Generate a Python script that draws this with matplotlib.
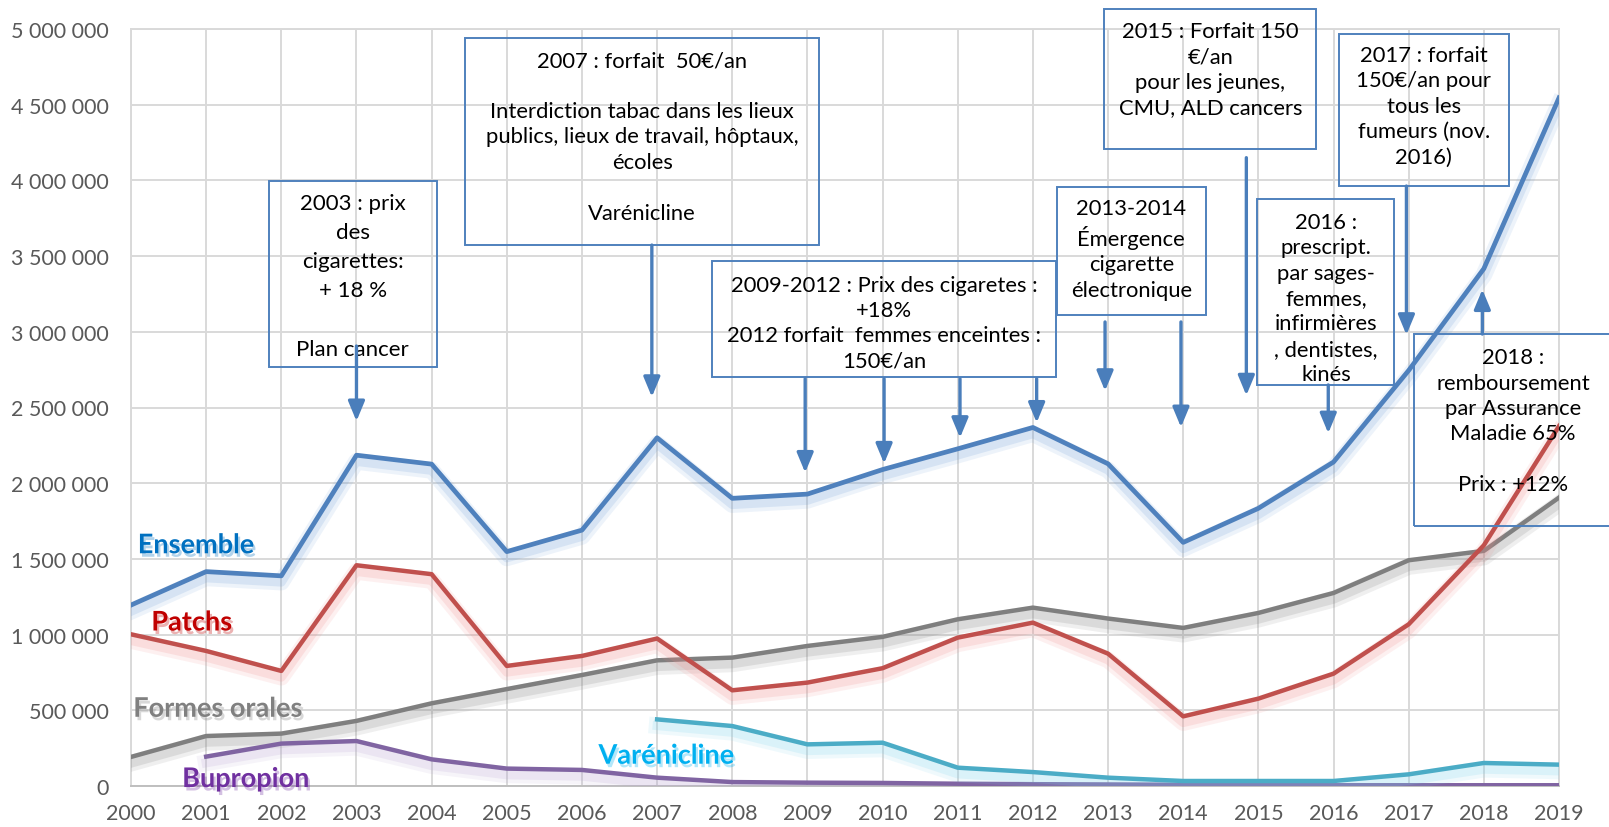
import numpy as np
import matplotlib
matplotlib.use("Agg")
import matplotlib.pyplot as plt
import matplotlib.patheffects as pe
from matplotlib.patches import Rectangle
from matplotlib.ticker import FuncFormatter

# données (nombre de traitements par an)
years = list(range(2000, 2020))
ensemble = [1195000, 1416000, 1388000, 2185000, 2126000, 1548000, 1690000, 2300000, 1900000, 1928000,
            2090000, 2227000, 2368000, 2128000, 1609000, 1834000, 2140000, 2745000, 3417000, 4545000]
patchs = [1002000, 892000, 760000, 1458000, 1399000, 793000, 859000, 974000, 632000, 683000,
          778000, 980000, 1079000, 874000, 460000, 577000, 742000, 1068000, 1590000, 2377000]
formes_orales = [192000, 330000, 346000, 430000, 546000, 640000, 733000, 830000, 848000, 925000,
                 985000, 1101000, 1178000, 1106000, 1044000, 1143000, 1275000, 1491000, 1553000, 1905000]
varenicline = [np.nan] * 7 + [440000, 396000, 275000, 286000, 121000, 92000, 55000, 33000, 33000,
                              33000, 77000, 152000, 141000]
bupropion = [np.nan, 194000, 280000, 297000, 176000, 115000, 106000, 55000, 26000, 22000,
             20000, 15000, 12000, 10000, 8000, 6000, 5000, 5000, 5000, 5000]

series_names = ["Ensemble", "Patchs", "Formes orales", "Varénicline", "Bupropion"]

plt.rcParams['font.family'] = ['Lato', 'DejaVu Sans']

BOX = '#4F81BD'


def shadow(c):
    return [pe.SimpleLineShadow(offset=(0, -4.5), shadow_color=c, alpha=0.12, linewidth=12),
            pe.SimpleLineShadow(offset=(0, -4.5), shadow_color=c, alpha=0.18, linewidth=6.5),
            pe.Normal()]


fig = plt.figure(figsize=(16.09, 8.28), dpi=100)
ax = fig.add_axes([131 / 1609, 1 - 787 / 828, (1559 - 131) / 1609, (787 - 30) / 828])

ax.set_xlim(2000, 2019)
ax.set_ylim(0, 5000000)
ax.set_xticks(years)
ax.set_yticks(np.arange(0, 5000001, 500000))
ax.yaxis.set_major_formatter(FuncFormatter(lambda v, p: f"{int(v):,}".replace(',', ' ')))
ax.grid(True, color='#D9D9D9', lw=1.4, zorder=0)
ax.set_axisbelow(True)
for s in ax.spines.values():
    s.set_color('#D9D9D9')
    s.set_linewidth(1.4)
ax.spines['bottom'].set_color('#BFBFBF')
ax.tick_params(length=0, labelsize=15.5, labelcolor='#595959')
ax.tick_params(axis='y', pad=16)
ax.tick_params(axis='x', pad=12)

# séries
ax.plot(years, formes_orales, color='#7F7F7F', lw=3.2, path_effects=shadow('#7F7F7F'), zorder=3)
ax.plot(years, bupropion, color='#8064A2', lw=3.2, path_effects=shadow('#B9A6D3'), zorder=3)
ax.plot(years, varenicline, color='#4BACC6', lw=3.2, path_effects=shadow('#7FD3EE'), zorder=3)
ax.plot(years, patchs, color='#C0504D', lw=3.2, path_effects=shadow('#F08A8A'), zorder=4)
ax.plot(years, ensemble, color='#4F81BD', lw=3.4, path_effects=shadow('#6F9FD8'), zorder=5)

# étiquettes des séries
lbl = [(2000.09, 1590000, '#0070C0'), (2000.27, 1080000, '#C00000'), (2000.03, 510000, '#808080'),
       (2006.22, 200000, '#00B0F0'), (2000.68, 46000, '#7030A0')]
for name, (x, y, c) in zip(series_names, lbl):
    ax.text(x, y, name, color=c, fontsize=19.5, fontweight='bold', va='center', ha='left', zorder=6,
            path_effects=[pe.withSimplePatchShadow(offset=(1.5, -2.5), shadow_rgbFace=c, alpha=0.3)])

# encadrés : (coin bas-gauche), (coin haut-droit), (centre du texte), taille, interligne, texte
boxes = [
    ((2001.84, 2767000), (2004.07, 3996000), (2002.95, 3370000), 16, 1.57,
     "2003 : prix\ndes\ncigarettes:\n+ 18 %\n\nPlan cancer"),
    ((2004.44, 3573000), (2009.16, 4940000), (2006.8, 4290000), 15.8, 1.34,
     "2007 : forfait  50€/an\n\nInterdiction tabac dans les lieux\npublics, lieux de travail, hôptaux,\n"
     "écoles\n\nVarénicline"),
    ((2007.73, 2700000), (2012.31, 3468000), (2010.02, 3060000), 15.8, 1.34,
     "2009-2012 : Prix des cigaretes :\n+18%\n2012 forfait  femmes enceintes :\n150€/an"),
    ((2012.32, 3111000), (2014.30, 3956000), (2013.31, 3547000), 15.8, 1.34,
     "2013-2014\nÉmergence\ncigarette\nélectronique"),
    ((2012.95, 4210000), (2015.77, 5130000), (2014.36, 4734000), 15.8, 1.34,
     "2015 : Forfait 150\n€/an\npour les jeunes,\nCMU, ALD cancers"),
    ((2014.98, 2649000), (2016.81, 3877000), (2015.9, 3223000), 15.8, 1.34,
     "2016 :\nprescript.\npar sages-\nfemmes,\ninfirmières\n, dentistes,\nkinés"),
    ((2016.07, 3963000), (2018.34, 4967000), (2017.2, 4493000), 15.8, 1.34,
     "2017 : forfait\n150€/an pour\ntous les\nfumeurs (nov.\n2016)"),
    ((2017.07, 1717000), (2020.6, 2985000), (2018.39, 2413000), 15.8, 1.34,
     "2018 :\nremboursement\npar Assurance\nMaladie 65%\n\nPrix : +12%"),
]
for (x0, y0), (x1, y1), (tx, ty), fs, ls, txt in boxes:
    ax.add_patch(Rectangle((x0, y0), x1 - x0, y1 - y0, fill=False, edgecolor=BOX, lw=1.4,
                           clip_on=False, zorder=7))
    ax.text(tx, ty, txt, ha='center', va='center', fontsize=fs, linespacing=ls, color='black',
            zorder=8, clip_on=False)

# flèches
arrows = [
    (2003.0, 2906000, 2410000), (2006.93, 3573000, 2570000),
    (2008.97, 2690000, 2070000), (2010.02, 2690000, 2130000), (2011.03, 2690000, 2300000),
    (2012.05, 2690000, 2400000),
    (2012.96, 3065000, 2610000), (2013.97, 3065000, 2370000),
    (2014.84, 4150000, 2580000), (2015.93, 2649000, 2330000),
    (2016.97, 3963000, 2980000), (2017.98, 2985000, 3280000),
]
for x, ys, ye in arrows:
    ax.annotate('', xy=(x, ye), xytext=(x, ys), zorder=8,
                arrowprops=dict(arrowstyle='-|>,head_length=0.6,head_width=0.25', color='#4A7EBB',
                                lw=2.4, mutation_scale=20, shrinkA=0, shrinkB=0))

fig.savefig('out.png', dpi=100)
